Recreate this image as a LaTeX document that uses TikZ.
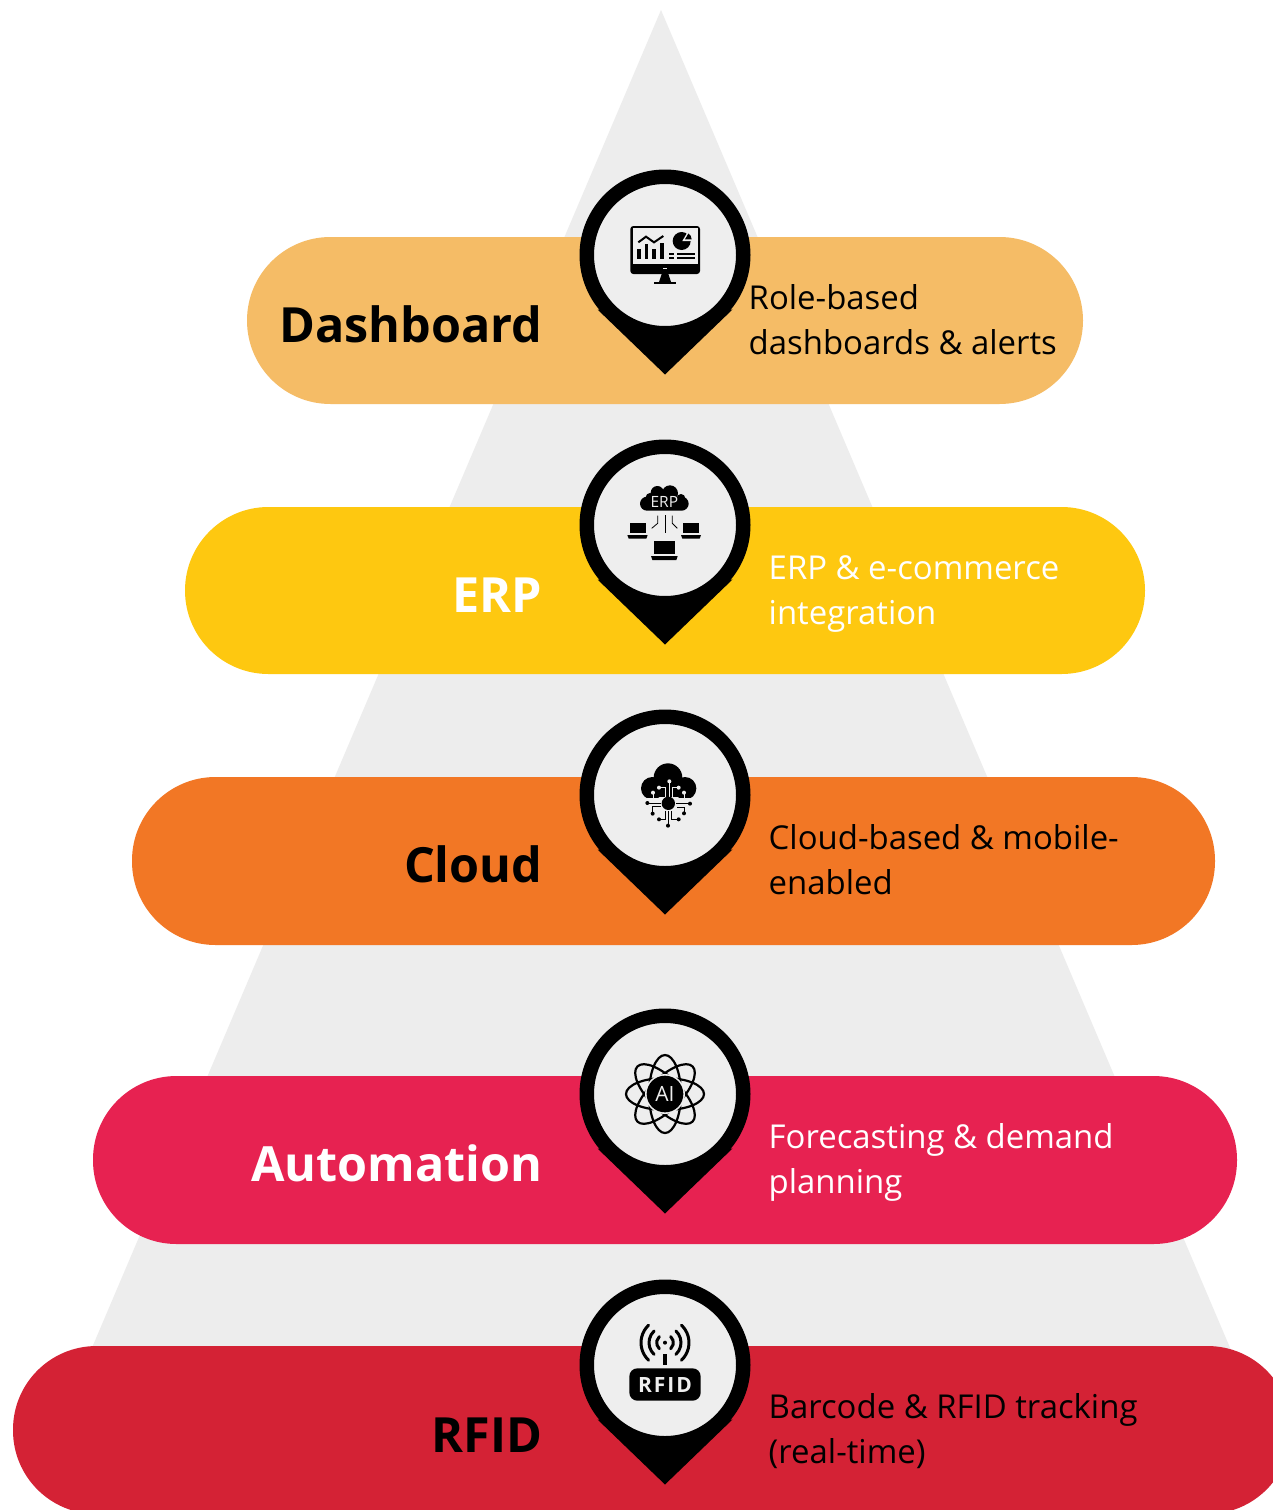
\documentclass[tikz,border=0pt]{standalone}
\usepackage{fontspec}
\setmainfont{Open Sans}
\definecolor{pyr}{HTML}{EDEDED}
\definecolor{headc}{HTML}{EEEEEE}
\definecolor{dashc}{HTML}{F5BC66}
\definecolor{erpc}{HTML}{FEC810}
\definecolor{cloudc}{HTML}{F27725}
\definecolor{autoc}{HTML}{E72251}
\definecolor{rfidc}{HTML}{D42235}
\tikzset{
  title/.style={anchor=base east,inner sep=0pt,font=\fontsize{48.5}{60}\selectfont\bfseries},
  body/.style={anchor=west,inner sep=0pt,align=left,font=\fontsize{32.9}{45}\selectfont},
  band/.style={rounded corners=83.5pt},
  pinhead/.style={circle,inner sep=0pt,minimum size=156.5pt,fill=headc,draw=black,line width=14.5pt,outer sep=0pt},
  icon/.style={scale=0.3333,black},
}
\newcommand{\pinat}[2]{%
  \fill[black] (665-67.5,#2+54.5) -- (665,#2+119.5) -- (665+67.5,#2+54.5) -- cycle;
  \node[pinhead] (#1) at (665,#2) {};
}
\begin{document}
\begin{tikzpicture}[x=1pt,y=-1pt]
\useasboundingbox (0,0) rectangle (1273,1510);
\clip (0,0) rectangle (1273,1510);
\fill[white] (0,0) rectangle (1273,1510);
% pyramid
\fill[pyr] (661,10) -- (1265,1430) -- (57,1430) -- cycle;
% bands
\fill[dashc,band] (247,237) rectangle (1083,404);
\fill[erpc,band] (185,507) rectangle (1145,674);
\fill[cloudc,band] (132,777) rectangle (1215,945);
\fill[autoc,band] (93,1076) rectangle (1237,1244);
\fill[rfidc,band] (13,1346) rectangle (1291,1514);
% pins
\pinat{pinA}{255}
\pinat{pinB}{525}
\pinat{pinC}{795}
\pinat{pinD}{1094}
\pinat{pinE}{1365}
% titles
\node[title,text=black] (tA) at (542.5,342) {Dashboard};
\node[title,text=white] (tB) at (542.5,612) {ERP};
\node[title,text=black] (tC) at (542.5,882) {Cloud};
\node[title,text=white] (tD) at (542.5,1181) {Automation};
\node[title,text=black] (tE) at (542.5,1452) {RFID};
% descriptions
\node[body,text=black] (dA) at (748.5,319.5) {Role-based\\dashboards \& alerts};
\node[body,text=white] (dB) at (768.5,594) {ERP \& e-commerce\\integration};
\node[body,text=black] (dC) at (768.5,859.5) {Cloud-based \& mobile-\\enabled};
\node[body,text=white] (dD) at (768.5,1162) {Forecasting \& demand\\planning};
\node[body,text=black] (dE) at (768.5,1431) {Barcode \& RFID tracking\\(real-time)};
% dashboard icon
\begin{scope}[shift={(665,255)},icon]
  \fill[rounded corners=3pt] (-104,-87) rectangle (105,57);
  \fill[headc] (-97,-80) rectangle (99,28);
  \fill[headc] (-6,39) rectangle (6,43);
  \fill (-10,57) -- (10,57) -- (18,81) -- (-18,81) -- cycle;
  \fill (-33,81) rectangle (33,87);
  \fill (-84,-17) rectangle (-73,12);
  \fill (-61,-33) rectangle (-50,12);
  \fill (-38,-17) rectangle (-27,12);
  \fill (-15,-35) rectangle (-4,12);
  \draw[line width=2pt] (-80,-38) -- (-57,-55) -- (-33,-38) -- (-5,-57);
  \fill (50,-42) circle[radius=27];
  \fill[headc] (52,-42) -- (92,-42) -- (72,-76) -- cycle;
  \fill (60,-47) -- (80,-47) arc[start angle=0,end angle=-60,radius=20] -- cycle;
  \fill (13,-5) rectangle (27,0);
  \fill (35,-5) rectangle (90,0);
  \fill (13,7) rectangle (27,12);
  \fill (35,7) rectangle (90,12);
\end{scope}
% ERP icon
\begin{scope}[shift={(665,525)},icon]
  \fill[rounded corners=7pt] (-75,-85) rectangle (71,-43);
  \fill (-23,-97) circle[radius=20];
  \fill (15,-95) circle[radius=24];
  \fill (-45,-83) circle[radius=13];
  \fill (48,-80) circle[radius=13];
  \node[text=headc,inner sep=0pt,font=\fontsize{15.5}{16}\selectfont] (erpw) at (-2,-68) {ERP};
  \draw[line width=.8pt] (0,-30) -- (0,23);
  \draw[line width=.8pt] (-22,-28) -- (-22,-5) -- (-40,10);
  \draw[line width=.8pt] (22,-28) -- (22,-5) -- (37,10);
  \fill (-106,-5) rectangle (-58,25);
  \fill (-113,30) -- (-52,30) -- (-56,41) -- (-109,41) -- cycle;
  \fill (55,-5) rectangle (102,25);
  \fill (48,30) -- (108,30) -- (104,41) -- (52,41) -- cycle;
  \fill (-33,47) rectangle (30,87);
  \fill (-42,93) -- (38,93) -- (34,105) -- (-38,105) -- cycle;
\end{scope}
% cloud icon
\begin{scope}[shift={(665,795)},icon]
  \fill (9,-52) circle[radius=43];
  \fill (-38,-20) circle[radius=34];
  \fill (60,-20) circle[radius=34];
  \fill (-38,-40) rectangle (60,6);
  \begin{scope}[headc,line width=.9pt]
    \draw (13,-40) -- (13,8);
    \draw (-18,-22) -- (0,-22) -- (0,8);
    \draw (41,-22) -- (23,-22) -- (23,8);
    \draw (-36,-5) -- (-36,12);
    \draw (57,-5) -- (57,12);
    \fill (13,-41) circle[radius=6];
    \fill (-18,-22) circle[radius=6];
    \fill (41,-22) circle[radius=6];
    \fill (-36,-7) circle[radius=6];
    \fill (57,-7) circle[radius=6];
    \fill (-60,9) rectangle (82,16);
  \end{scope}
  \fill (10,25) circle[radius=20];
  \draw[line width=.9pt] (-53,24) -- (-13,24);
  \draw[line width=.9pt] (-37,56) -- (-37,35) -- (-13,35);
  \draw[line width=.9pt] (75,26) -- (33,26);
  \draw[line width=.9pt] (57,55) -- (57,37) -- (35,37);
  \draw[line width=.9pt] (-18,73) -- (0,73) -- (0,48);
  \draw[line width=.9pt] (9,92) -- (9,48);
  \draw[line width=.9pt] (41,73) -- (20,73) -- (20,48);
  \foreach \p in {(-53,24),(-37,56),(75,26),(57,55),(-18,73),(9,92),(41,73)} \fill \p circle[radius=6];
\end{scope}
% AI icon
\begin{scope}[shift={(665,1094)},icon]
  \foreach \a in {0,45,90,135}
    \draw[line width=2.2pt,rotate=\a] (0,0) ellipse[x radius=117,y radius=48];
  \fill[headc] (0,0) circle[radius=60];
  \fill (0,0) circle[radius=55];
  \node[text=headc,inner sep=0pt,font=\fontsize{21}{22}\selectfont] (aiw) at (0,1) {AI};
\end{scope}
% RFID icon
\begin{scope}[shift={(665,1365)},icon]
  \fill[rounded corners=8pt] (-107,10) rectangle (107,107);
  \node[text=headc,inner sep=0pt,font=\fontsize{21}{24}\selectfont\bfseries] (rfw) at (0,59) {R\kern2pt F\kern2pt I\kern2pt D};
  \draw[line width=3.3pt] (0,-33) -- (0,0);
  \fill (0,-67) circle[radius=6];
  \foreach \r in {25,48,72} {
    \draw[line width=3pt,line cap=round] (0,-67) ++(-47:\r) arc[start angle=-47,end angle=47,radius=\r];
    \draw[line width=3pt,line cap=round] (0,-67) ++(133:\r) arc[start angle=133,end angle=227,radius=\r];
  }
\end{scope}
\end{tikzpicture}
\end{document}
